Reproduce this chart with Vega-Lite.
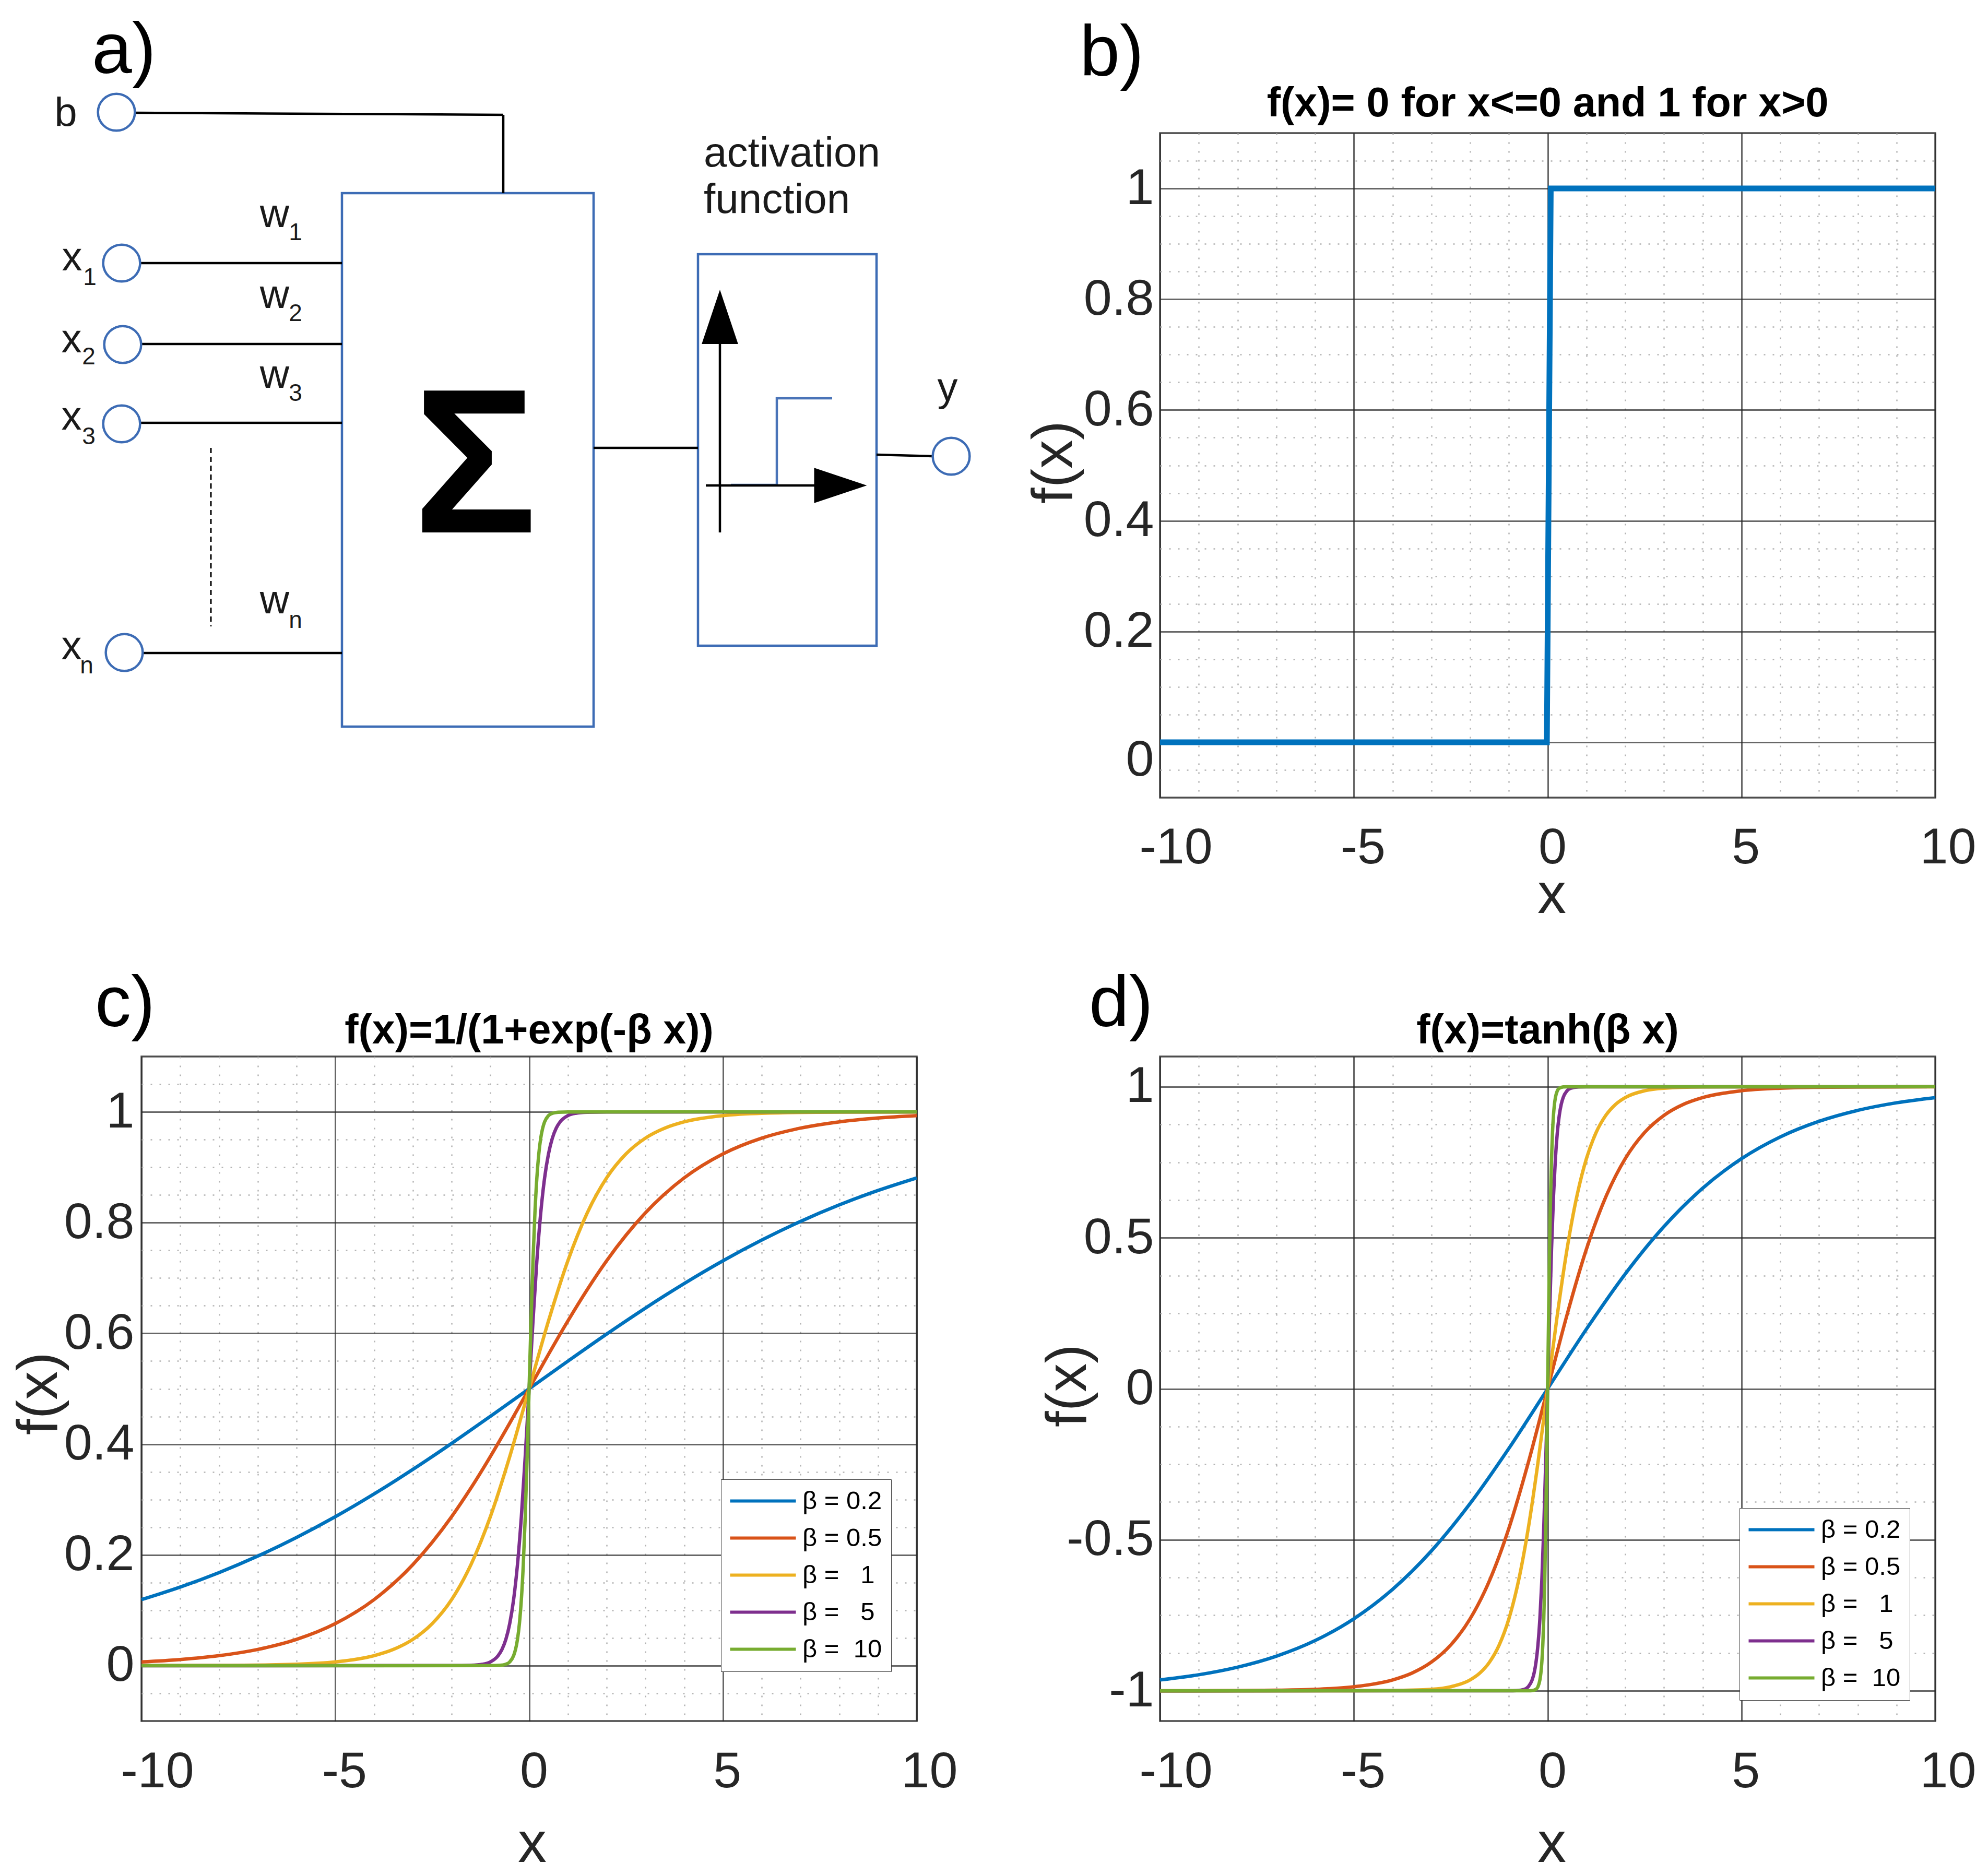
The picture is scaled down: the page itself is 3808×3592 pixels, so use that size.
{
"$schema":"https://vega.github.io/schema/vega-lite/v6.json",
"autosize":{"type":"none"},
"padding":{"left":271,"top":255,"right":3537,"bottom":3337},
"background":"white",
"columns":2,
"spacing":{"row":496,"column":466},
"bounds":"flush",
"align":"all",
"resolve":{"scale":{"color":"independent"},"legend":{"color":"independent"}},
"datasets":{
"dRect":[{"x":655,"y":370,"x2":1137,"y2":1392},{"x":1337,"y":487,"x2":1679,"y2":1237}],
"dRule":[{"x":258,"y":216,"x2":964,"y2":220},{"x":964,"y":220,"x2":964,"y2":370},{"x":269,"y":504,"x2":655,"y2":504},{"x":271,"y":659,"x2":655,"y2":659},{"x":269,"y":810,"x2":655,"y2":810},{"x":274,"y":1251,"x2":655,"y2":1251},{"x":1137,"y":858,"x2":1337,"y2":858},{"x":1679,"y":871,"x2":1786,"y2":874},{"x":1379,"y":1020,"x2":1379,"y2":650},{"x":1352,"y":930,"x2":1570,"y2":930}],
"dStep":[{"x":1400,"y":929,"o":0},{"x":1488,"y":929,"o":1},{"x":1488,"y":763,"o":2},{"x":1594,"y":763,"o":3}],
"dCirc":[{"x":223,"y":215},{"x":233,"y":504},{"x":235,"y":660},{"x":233,"y":812},{"x":238,"y":1250},{"x":1822,"y":874}],
"dTxt":[{"x":126,"y":242,"t":"b"},{"x":138,"y":518,"t":"x"},{"x":137,"y":675,"t":"x"},{"x":137,"y":823,"t":"x"},{"x":137,"y":1263,"t":"x"},{"x":526,"y":435,"t":"w"},{"x":526,"y":590,"t":"w"},{"x":526,"y":743,"t":"w"},{"x":526,"y":1175,"t":"w"},{"x":1815,"y":768,"t":"y"}],
"dSub":[{"x":172,"y":546,"t":"1"},{"x":170,"y":698,"t":"2"},{"x":170,"y":851,"t":"3"},{"x":166,"y":1290,"t":"n"},{"x":566,"y":460,"t":"1"},{"x":566,"y":615,"t":"2"},{"x":566,"y":768,"t":"3"},{"x":566,"y":1203,"t":"n"}],
"dAct":[{"x":1348,"y":319,"t":"activation"},{"x":1348,"y":408,"t":"function"}],
"dSigma":[{"x":910,"y":1020,"t":"Σ"}],
"dLab":[{"x":176,"y":140,"t":"a)"}],
"dUp":[{"x":1379,"y":607}],
"dRight":[{"x":1610,"y":930}],
"dDash":[{"x":404,"y":858,"x2":404,"y2":1200}],
"step":[{"x":-10,"y":0},{"x":-0.02,"y":0},{"x":0.08,"y":1},{"x":10,"y":1}],
"sig":[
{"b":"0.2","x":-10,"y":0.1192},{"b":"0.2","x":-9,"y":0.1419},{"b":"0.2","x":-8,"y":0.168},{"b":"0.2","x":-7,"y":0.1978},{"b":"0.2","x":-6,"y":0.2315},{"b":"0.2","x":-5,"y":0.2689},{"b":"0.2","x":-4,"y":0.31},{"b":"0.2","x":-3,"y":0.3543},{"b":"0.2","x":-2,"y":0.4013},{"b":"0.2","x":-1,"y":0.4502},{"b":"0.2","x":0,"y":0.5},{"b":"0.2","x":1,"y":0.5498},{"b":"0.2","x":2,"y":0.5987},{"b":"0.2","x":3,"y":0.6457},{"b":"0.2","x":4,"y":0.69},{"b":"0.2","x":5,"y":0.7311},{"b":"0.2","x":6,"y":0.7685},{"b":"0.2","x":7,"y":0.8022},{"b":"0.2","x":8,"y":0.832},{"b":"0.2","x":9,"y":0.8581},{"b":"0.2","x":10,"y":0.8808},
{"b":"0.5","x":-10,"y":0.0067},{"b":"0.5","x":-9,"y":0.011},{"b":"0.5","x":-8,"y":0.018},{"b":"0.5","x":-7,"y":0.0293},{"b":"0.5","x":-6,"y":0.0474},{"b":"0.5","x":-5,"y":0.0759},{"b":"0.5","x":-4,"y":0.1192},{"b":"0.5","x":-3,"y":0.1824},{"b":"0.5","x":-2,"y":0.2689},{"b":"0.5","x":-1.5,"y":0.3208},{"b":"0.5","x":-1,"y":0.3775},{"b":"0.5","x":-0.5,"y":0.4378},{"b":"0.5","x":0,"y":0.5},{"b":"0.5","x":0.5,"y":0.5622},{"b":"0.5","x":1,"y":0.6225},{"b":"0.5","x":1.5,"y":0.6792},{"b":"0.5","x":2,"y":0.7311},{"b":"0.5","x":3,"y":0.8176},{"b":"0.5","x":4,"y":0.8808},{"b":"0.5","x":5,"y":0.9241},{"b":"0.5","x":6,"y":0.9526},{"b":"0.5","x":7,"y":0.9707},{"b":"0.5","x":8,"y":0.982},{"b":"0.5","x":9,"y":0.989},{"b":"0.5","x":10,"y":0.9933},
{"b":"1","x":-10,"y":0.00005},{"b":"1","x":-8,"y":0.0003},{"b":"1","x":-6,"y":0.0025},{"b":"1","x":-5,"y":0.0067},{"b":"1","x":-4,"y":0.018},{"b":"1","x":-3.5,"y":0.0293},{"b":"1","x":-3,"y":0.0474},{"b":"1","x":-2.5,"y":0.0759},{"b":"1","x":-2,"y":0.1192},{"b":"1","x":-1.5,"y":0.1824},{"b":"1","x":-1,"y":0.2689},{"b":"1","x":-0.5,"y":0.3775},{"b":"1","x":0,"y":0.5},{"b":"1","x":0.5,"y":0.6225},{"b":"1","x":1,"y":0.7311},{"b":"1","x":1.5,"y":0.8176},{"b":"1","x":2,"y":0.8808},{"b":"1","x":2.5,"y":0.9241},{"b":"1","x":3,"y":0.9526},{"b":"1","x":3.5,"y":0.9707},{"b":"1","x":4,"y":0.982},{"b":"1","x":5,"y":0.9933},{"b":"1","x":6,"y":0.9975},{"b":"1","x":8,"y":0.9997},{"b":"1","x":10,"y":0.99995},
{"b":"5","x":-10,"y":0},{"b":"5","x":-2,"y":0.00005},{"b":"5","x":-1.5,"y":0.0006},{"b":"5","x":-1.2,"y":0.0025},{"b":"5","x":-1,"y":0.0067},{"b":"5","x":-0.8,"y":0.018},{"b":"5","x":-0.7,"y":0.0293},{"b":"5","x":-0.6,"y":0.0474},{"b":"5","x":-0.5,"y":0.0759},{"b":"5","x":-0.4,"y":0.1192},{"b":"5","x":-0.3,"y":0.1824},{"b":"5","x":-0.2,"y":0.2689},{"b":"5","x":-0.1,"y":0.3775},{"b":"5","x":0,"y":0.5},{"b":"5","x":0.1,"y":0.6225},{"b":"5","x":0.2,"y":0.7311},{"b":"5","x":0.3,"y":0.8176},{"b":"5","x":0.4,"y":0.8808},{"b":"5","x":0.5,"y":0.9241},{"b":"5","x":0.6,"y":0.9526},{"b":"5","x":0.7,"y":0.9707},{"b":"5","x":0.8,"y":0.982},{"b":"5","x":1,"y":0.9933},{"b":"5","x":1.2,"y":0.9975},{"b":"5","x":1.5,"y":0.9994},{"b":"5","x":2,"y":0.99995},{"b":"5","x":10,"y":1},
{"b":"10","x":-10,"y":0},{"b":"10","x":-1,"y":0.00005},{"b":"10","x":-0.75,"y":0.0006},{"b":"10","x":-0.6,"y":0.0025},{"b":"10","x":-0.5,"y":0.0067},{"b":"10","x":-0.4,"y":0.018},{"b":"10","x":-0.35,"y":0.0293},{"b":"10","x":-0.3,"y":0.0474},{"b":"10","x":-0.25,"y":0.0759},{"b":"10","x":-0.2,"y":0.1192},{"b":"10","x":-0.15,"y":0.1824},{"b":"10","x":-0.1,"y":0.2689},{"b":"10","x":-0.05,"y":0.3775},{"b":"10","x":0,"y":0.5},{"b":"10","x":0.05,"y":0.6225},{"b":"10","x":0.1,"y":0.7311},{"b":"10","x":0.15,"y":0.8176},{"b":"10","x":0.2,"y":0.8808},{"b":"10","x":0.25,"y":0.9241},{"b":"10","x":0.3,"y":0.9526},{"b":"10","x":0.35,"y":0.9707},{"b":"10","x":0.4,"y":0.982},{"b":"10","x":0.5,"y":0.9933},{"b":"10","x":0.6,"y":0.9975},{"b":"10","x":0.75,"y":0.9994},{"b":"10","x":1,"y":0.99995},{"b":"10","x":10,"y":1}
],
"tnh":[
{"b":"0.2","x":-10,"y":-0.964},{"b":"0.2","x":-9,"y":-0.9468},{"b":"0.2","x":-8,"y":-0.9217},{"b":"0.2","x":-7,"y":-0.8854},{"b":"0.2","x":-6,"y":-0.8337},{"b":"0.2","x":-5,"y":-0.7616},{"b":"0.2","x":-4,"y":-0.664},{"b":"0.2","x":-3,"y":-0.537},{"b":"0.2","x":-2,"y":-0.3799},{"b":"0.2","x":-1,"y":-0.1974},{"b":"0.2","x":0,"y":0},{"b":"0.2","x":1,"y":0.1974},{"b":"0.2","x":2,"y":0.3799},{"b":"0.2","x":3,"y":0.537},{"b":"0.2","x":4,"y":0.664},{"b":"0.2","x":5,"y":0.7616},{"b":"0.2","x":6,"y":0.8337},{"b":"0.2","x":7,"y":0.8854},{"b":"0.2","x":8,"y":0.9217},{"b":"0.2","x":9,"y":0.9468},{"b":"0.2","x":10,"y":0.964},
{"b":"0.5","x":-10,"y":-0.9999},{"b":"0.5","x":-8,"y":-0.9993},{"b":"0.5","x":-7,"y":-0.9982},{"b":"0.5","x":-6,"y":-0.9951},{"b":"0.5","x":-5,"y":-0.9866},{"b":"0.5","x":-4,"y":-0.964},{"b":"0.5","x":-3.5,"y":-0.9414},{"b":"0.5","x":-3,"y":-0.9051},{"b":"0.5","x":-2.5,"y":-0.8483},{"b":"0.5","x":-2,"y":-0.7616},{"b":"0.5","x":-1.5,"y":-0.6351},{"b":"0.5","x":-1,"y":-0.4621},{"b":"0.5","x":-0.5,"y":-0.2449},{"b":"0.5","x":0,"y":0},{"b":"0.5","x":0.5,"y":0.2449},{"b":"0.5","x":1,"y":0.4621},{"b":"0.5","x":1.5,"y":0.6351},{"b":"0.5","x":2,"y":0.7616},{"b":"0.5","x":2.5,"y":0.8483},{"b":"0.5","x":3,"y":0.9051},{"b":"0.5","x":3.5,"y":0.9414},{"b":"0.5","x":4,"y":0.964},{"b":"0.5","x":5,"y":0.9866},{"b":"0.5","x":6,"y":0.9951},{"b":"0.5","x":7,"y":0.9982},{"b":"0.5","x":8,"y":0.9993},{"b":"0.5","x":10,"y":0.9999},
{"b":"1","x":-10,"y":-1},{"b":"1","x":-5,"y":-0.9999},{"b":"1","x":-4,"y":-0.9993},{"b":"1","x":-3,"y":-0.9951},{"b":"1","x":-2.5,"y":-0.9866},{"b":"1","x":-2,"y":-0.964},{"b":"1","x":-1.75,"y":-0.9414},{"b":"1","x":-1.5,"y":-0.9051},{"b":"1","x":-1.25,"y":-0.8483},{"b":"1","x":-1,"y":-0.7616},{"b":"1","x":-0.75,"y":-0.6351},{"b":"1","x":-0.5,"y":-0.4621},{"b":"1","x":-0.25,"y":-0.2449},{"b":"1","x":0,"y":0},{"b":"1","x":0.25,"y":0.2449},{"b":"1","x":0.5,"y":0.4621},{"b":"1","x":0.75,"y":0.6351},{"b":"1","x":1,"y":0.7616},{"b":"1","x":1.25,"y":0.8483},{"b":"1","x":1.5,"y":0.9051},{"b":"1","x":1.75,"y":0.9414},{"b":"1","x":2,"y":0.964},{"b":"1","x":2.5,"y":0.9866},{"b":"1","x":3,"y":0.9951},{"b":"1","x":4,"y":0.9993},{"b":"1","x":5,"y":0.9999},{"b":"1","x":10,"y":1},
{"b":"5","x":-10,"y":-1},{"b":"5","x":-1,"y":-0.9999},{"b":"5","x":-0.8,"y":-0.9993},{"b":"5","x":-0.6,"y":-0.9951},{"b":"5","x":-0.5,"y":-0.9866},{"b":"5","x":-0.4,"y":-0.964},{"b":"5","x":-0.35,"y":-0.9414},{"b":"5","x":-0.3,"y":-0.9051},{"b":"5","x":-0.25,"y":-0.8483},{"b":"5","x":-0.2,"y":-0.7616},{"b":"5","x":-0.15,"y":-0.6351},{"b":"5","x":-0.1,"y":-0.4621},{"b":"5","x":-0.05,"y":-0.2449},{"b":"5","x":0,"y":0},{"b":"5","x":0.05,"y":0.2449},{"b":"5","x":0.1,"y":0.4621},{"b":"5","x":0.15,"y":0.6351},{"b":"5","x":0.2,"y":0.7616},{"b":"5","x":0.25,"y":0.8483},{"b":"5","x":0.3,"y":0.9051},{"b":"5","x":0.35,"y":0.9414},{"b":"5","x":0.4,"y":0.964},{"b":"5","x":0.5,"y":0.9866},{"b":"5","x":0.6,"y":0.9951},{"b":"5","x":0.8,"y":0.9993},{"b":"5","x":1,"y":0.9999},{"b":"5","x":10,"y":1},
{"b":"10","x":-10,"y":-1},{"b":"10","x":-0.5,"y":-0.9999},{"b":"10","x":-0.4,"y":-0.9993},{"b":"10","x":-0.3,"y":-0.9951},{"b":"10","x":-0.25,"y":-0.9866},{"b":"10","x":-0.2,"y":-0.964},{"b":"10","x":-0.175,"y":-0.9414},{"b":"10","x":-0.15,"y":-0.9051},{"b":"10","x":-0.125,"y":-0.8483},{"b":"10","x":-0.1,"y":-0.7616},{"b":"10","x":-0.075,"y":-0.6351},{"b":"10","x":-0.05,"y":-0.4621},{"b":"10","x":-0.025,"y":-0.2449},{"b":"10","x":0,"y":0},{"b":"10","x":0.025,"y":0.2449},{"b":"10","x":0.05,"y":0.4621},{"b":"10","x":0.075,"y":0.6351},{"b":"10","x":0.1,"y":0.7616},{"b":"10","x":0.125,"y":0.8483},{"b":"10","x":0.15,"y":0.9051},{"b":"10","x":0.175,"y":0.9414},{"b":"10","x":0.2,"y":0.964},{"b":"10","x":0.25,"y":0.9866},{"b":"10","x":0.3,"y":0.9951},{"b":"10","x":0.4,"y":0.9993},{"b":"10","x":0.5,"y":0.9999},{"b":"10","x":10,"y":1}
]
},
"concat":[
{
"width":1485,"height":1273,
"view":{"stroke":null},
"encoding":{
"x":{"field":"x","type":"quantitative","scale":{"domain":[271,1756],"nice":false,"zero":false},"axis":null},
"y":{"field":"y","type":"quantitative","scale":{"domain":[255,1528],"nice":false,"zero":false,"reverse":true},"axis":null}
},
"layer":[
{"data":{"name":"dRect"},"mark":{"type":"rect","filled":false,"stroke":"#3d6cb5","strokeWidth":4.5},"encoding":{"x2":{"field":"x2"},"y2":{"field":"y2"}}},
{"data":{"name":"dStep"},"mark":{"type":"line","color":"#4a74b8","strokeWidth":4.5},"encoding":{"order":{"field":"o","type":"quantitative"}}},
{"data":{"name":"dRule"},"mark":{"type":"rule","color":"black","strokeWidth":4.5},"encoding":{"x2":{"field":"x2"},"y2":{"field":"y2"}}},
{"data":{"name":"dDash"},"mark":{"type":"rule","color":"black","strokeWidth":3,"strokeDash":[10,7]},"encoding":{"x2":{"field":"x2"},"y2":{"field":"y2"}}},
{"data":{"name":"dCirc"},"mark":{"type":"point","shape":"circle","size":5000,"fill":"white","stroke":"#3d6cb5","strokeWidth":4.5,"opacity":1}},
{"data":{"name":"dUp"},"mark":{"type":"point","shape":"M0,-1L0.67,1L-0.67,1Z","size":10816,"filled":true,"fill":"black","strokeWidth":0,"opacity":1}},
{"data":{"name":"dRight"},"mark":{"type":"point","shape":"M1,0L-1,0.67L-1,-0.67Z","size":10201,"filled":true,"fill":"black","strokeWidth":0,"opacity":1}},
{"data":{"name":"dTxt"},"mark":{"type":"text","fontSize":78,"align":"center","baseline":"alphabetic","color":"#1a1a1a"},"encoding":{"text":{"field":"t"}}},
{"data":{"name":"dSub"},"mark":{"type":"text","fontSize":46,"align":"center","baseline":"alphabetic","color":"#1a1a1a"},"encoding":{"text":{"field":"t"}}},
{"data":{"name":"dAct"},"mark":{"type":"text","fontSize":80,"align":"left","baseline":"alphabetic","color":"#1a1a1a"},"encoding":{"text":{"field":"t"}}},
{"data":{"name":"dSigma"},"mark":{"type":"text","fontSize":395,"fontWeight":"bold","align":"center","baseline":"alphabetic","color":"black"},"encoding":{"text":{"field":"t"}}},
{"data":{"name":"dLab"},"mark":{"type":"text","fontSize":138,"align":"left","baseline":"alphabetic","color":"black"},"encoding":{"text":{"field":"t"}}}
]
},
{
"width":1485,"height":1273,
"title":{"text":"f(x)= 0 for x<=0 and 1 for x>0","font":"Liberation Sans","fontSize":79,"fontWeight":"bold","color":"black","baseline":"alphabetic","anchor":"middle","frame":"group","offset":-267},
"resolve":{"axis":{"x":"independent","y":"independent"}},
"layer":[
{"data":{"values":[{}]},"mark":{"type":"text","fontSize":138,"align":"left","baseline":"alphabetic","color":"black"},
"encoding":{
"x":{"datum":-12.07,"type":"quantitative","scale":{"domain":[-10,10],"nice":false,"zero":false},"axis":{"orient":"bottom","values":[-9,-8,-7,-6,-4,-3,-2,-1,1,2,3,4,6,7,8,9],"grid":true,"gridDash":[3,14],"gridColor":"#b3b3b3","gridWidth":2.5,"gridOpacity":1,"labels":false,"ticks":false,"domain":false,"title":null}},
"y":{"datum":1.2037,"type":"quantitative","scale":{"domain":[-0.1,1.1],"nice":false,"zero":false},"axis":{"orient":"left","values":[-0.05,0.05,0.1,0.15,0.25,0.3,0.35,0.45,0.5,0.55,0.65,0.7,0.75,0.85,0.9,0.95,1.05],"grid":true,"gridDash":[3,14],"gridColor":"#b3b3b3","gridWidth":2.5,"gridOpacity":1,"labels":false,"ticks":false,"domain":false,"title":null}},
"text":{"value":"b)"}}},
{"data":{"name":"step"},"mark":{"type":"line","color":"#0072BD","strokeWidth":11},
"encoding":{
"x":{"field":"x","type":"quantitative","scale":{"domain":[-10,10],"nice":false,"zero":false},"axis":{"orient":"bottom","values":[-10,-5,0,5,10],"grid":true,"labelExpr":"'' + datum.value","labelBaseline":"alphabetic","labelAlign":"center","labelPadding":125,"labelOffset":{"condition":[{"test":"datum.value == -10","value":30},{"test":"datum.value == -5","value":17},{"test":"datum.value == 0","value":9},{"test":"datum.value == 5","value":8},{"test":"datum.value == 10","value":24}],"value":0},"title":"x","titleX":750,"titleY":220,"titleAngle":0,"titleAlign":"center","titleBaseline":"alphabetic"}},
"y":{"field":"y","type":"quantitative","scale":{"domain":[-0.1,1.1],"nice":false,"zero":false},"axis":{"orient":"left","values":[0,0.2,0.4,0.6,0.8,1],"grid":true,"labelExpr":"'' + datum.value","labelAlign":"right","labelBaseline":"middle","labelPadding":12,"labelOffset":{"condition":{"test":"datum.value == 0","value":35},"value":0},"title":"f(x)","titleX":-170,"titleY":630,"titleAngle":270,"titleAlign":"center","titleBaseline":"alphabetic"}}
}}
]
},
{
"width":1485,"height":1273,
"title":{"text":"f(x)=1/(1+exp(-β x))","font":"Liberation Sans","fontSize":79,"fontWeight":"bold","color":"black","baseline":"alphabetic","anchor":"middle","frame":"group","offset":-222},
"resolve":{"axis":{"x":"independent","y":"independent"}},
"layer":[
{"data":{"values":[{}]},"mark":{"type":"text","fontSize":138,"align":"left","baseline":"alphabetic","color":"black"},
"encoding":{
"x":{"datum":-11.2,"type":"quantitative","scale":{"domain":[-10,10],"nice":false,"zero":false},"axis":{"orient":"bottom","values":[-9,-8,-7,-6,-4,-3,-2,-1,1,2,3,4,6,7,8,9],"grid":true,"gridDash":[3,14],"gridColor":"#b3b3b3","gridWidth":2.5,"gridOpacity":1,"labels":false,"ticks":false,"domain":false,"title":null}},
"y":{"datum":1.1547,"type":"quantitative","scale":{"domain":[-0.1,1.1],"nice":false,"zero":false},"axis":{"orient":"left","values":[-0.05,0.05,0.1,0.15,0.25,0.3,0.35,0.45,0.5,0.55,0.65,0.7,0.75,0.85,0.9,0.95,1.05],"grid":true,"gridDash":[3,14],"gridColor":"#b3b3b3","gridWidth":2.5,"gridOpacity":1,"labels":false,"ticks":false,"domain":false,"title":null}},
"text":{"value":"c)"}}},
{"data":{"name":"sig"},"mark":{"type":"line","strokeWidth":6.5,"interpolate":"monotone"},
"encoding":{
"x":{"field":"x","type":"quantitative","scale":{"domain":[-10,10],"nice":false,"zero":false},"axis":{"orient":"bottom","values":[-10,-5,0,5,10],"grid":true,"labelExpr":"'' + datum.value","labelBaseline":"alphabetic","labelAlign":"center","labelPadding":126,"labelOffset":{"condition":[{"test":"datum.value == -10","value":30},{"test":"datum.value == -5","value":17},{"test":"datum.value == 0","value":9},{"test":"datum.value == 5","value":8},{"test":"datum.value == 10","value":24}],"value":0},"title":"x","titleX":748,"titleY":269,"titleAngle":0,"titleAlign":"center","titleBaseline":"alphabetic"}},
"y":{"field":"y","type":"quantitative","scale":{"domain":[-0.1,1.1],"nice":false,"zero":false},"axis":{"orient":"left","values":[0,0.2,0.4,0.6,0.8,1],"grid":true,"labelExpr":"'' + datum.value","labelAlign":"right","labelBaseline":"middle","labelPadding":14,"title":"f(x)","titleX":-163,"titleY":645,"titleAngle":270,"titleAlign":"center","titleBaseline":"alphabetic"}},
"color":{"field":"b","type":"nominal","scale":{"domain":["0.2","0.5","1","5","10"],"range":["#0072BD","#D95319","#EDB120","#7E2F8E","#77AC30"]},
"legend":{"orient":"none","legendX":1110,"legendY":810,"title":null,"symbolType":"M-3,0H3","symbolSize":1764,"symbolStrokeWidth":6,"symbolOffset":39,"labelOffset":51,"labelFont":"Liberation Sans","labelFontSize":49,"labelColor":"black","rowPadding":21,"padding":17,"strokeColor":"#404040","fillColor":"white","labelExpr":"'β = ' + (datum.label == '10' ? '\u00a0' : ((datum.label == '1' || datum.label == '5') ? '\u00a0\u00a0' : '')) + datum.label"}}
}}
]
},
{
"width":1485,"height":1273,
"title":{"text":"f(x)=tanh(β x)","font":"Liberation Sans","fontSize":79,"fontWeight":"bold","color":"black","baseline":"alphabetic","anchor":"middle","frame":"group","offset":-222},
"resolve":{"axis":{"x":"independent","y":"independent"}},
"layer":[
{"data":{"values":[{}]},"mark":{"type":"text","fontSize":138,"align":"left","baseline":"alphabetic","color":"black"},
"encoding":{
"x":{"datum":-11.83,"type":"quantitative","scale":{"domain":[-10,10],"nice":false,"zero":false},"axis":{"orient":"bottom","values":[-9,-8,-7,-6,-4,-3,-2,-1,1,2,3,4,6,7,8,9],"grid":true,"gridDash":[3,14],"gridColor":"#b3b3b3","gridWidth":2.5,"gridOpacity":1,"labels":false,"ticks":false,"domain":false,"title":null}},
"y":{"datum":1.2002,"type":"quantitative","scale":{"domain":[-1.1,1.1],"nice":false,"zero":false},"axis":{"orient":"left","values":[-0.875,-0.75,-0.625,-0.375,-0.25,-0.125,0.125,0.25,0.375,0.625,0.75,0.875],"grid":true,"gridDash":[3,14],"gridColor":"#b3b3b3","gridWidth":2.5,"gridOpacity":1,"labels":false,"ticks":false,"domain":false,"title":null}},
"text":{"value":"d)"}}},
{"data":{"name":"tnh"},"mark":{"type":"line","strokeWidth":6.5,"interpolate":"monotone"},
"encoding":{
"x":{"field":"x","type":"quantitative","scale":{"domain":[-10,10],"nice":false,"zero":false},"axis":{"orient":"bottom","values":[-10,-5,0,5,10],"grid":true,"labelExpr":"'' + datum.value","labelBaseline":"alphabetic","labelAlign":"center","labelPadding":126,"labelOffset":{"condition":[{"test":"datum.value == -10","value":30},{"test":"datum.value == -5","value":17},{"test":"datum.value == 0","value":9},{"test":"datum.value == 5","value":8},{"test":"datum.value == 10","value":24}],"value":0},"title":"x","titleX":750,"titleY":269,"titleAngle":0,"titleAlign":"center","titleBaseline":"alphabetic"}},
"y":{"field":"y","type":"quantitative","scale":{"domain":[-1.1,1.1],"nice":false,"zero":false},"axis":{"orient":"left","values":[-1,-0.5,0,0.5,1],"grid":true,"labelExpr":"'' + datum.value","labelAlign":"right","labelBaseline":"middle","labelPadding":12,"title":"f(x)","titleX":-143,"titleY":630,"titleAngle":270,"titleAlign":"center","titleBaseline":"alphabetic"}},
"color":{"field":"b","type":"nominal","scale":{"domain":["0.2","0.5","1","5","10"],"range":["#0072BD","#D95319","#EDB120","#7E2F8E","#77AC30"]},
"legend":{"orient":"none","legendX":1110,"legendY":865,"title":null,"symbolType":"M-3,0H3","symbolSize":1764,"symbolStrokeWidth":6,"symbolOffset":39,"labelOffset":51,"labelFont":"Liberation Sans","labelFontSize":49,"labelColor":"black","rowPadding":21,"padding":17,"strokeColor":"#404040","fillColor":"white","labelExpr":"'β = ' + (datum.label == '10' ? '\u00a0' : ((datum.label == '1' || datum.label == '5') ? '\u00a0\u00a0' : '')) + datum.label"}}
}}
]
}
],
"config":{
"font":"Liberation Sans",
"view":{"stroke":"#4d4d4d","strokeWidth":3.5},
"axis":{"labelFont":"Liberation Sans","labelFontSize":97,"labelColor":"#262626","titleFont":"Liberation Sans","titleFontSize":110,"titleFontWeight":"normal","titleColor":"#262626","ticks":false,"tickSize":0,"domain":false,"labelOverlap":false,"labelFlush":false,"labelBound":false,"gridColor":"#262626","gridOpacity":0.7,"gridWidth":3},
"text":{"font":"Liberation Sans"}
}
}
